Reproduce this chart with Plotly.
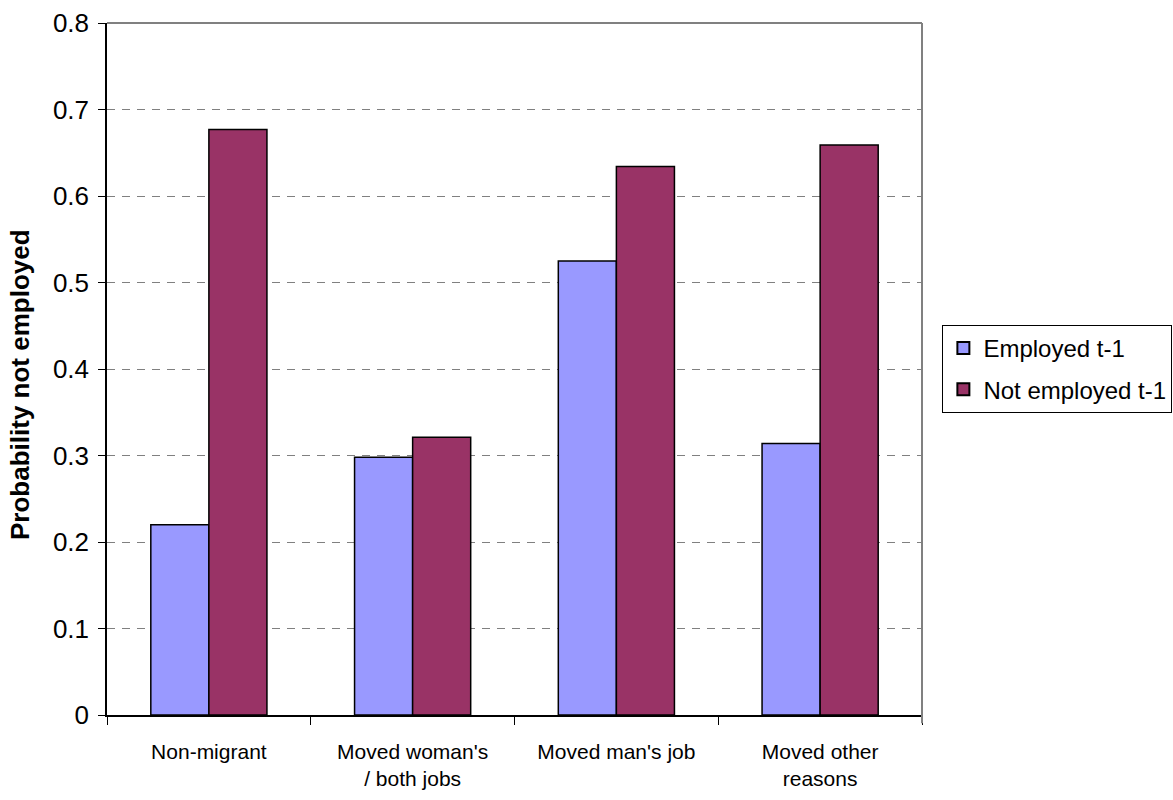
import plotly.graph_objects as go

categories = ["Non-migrant", "Moved woman's<br>/ both jobs", "Moved man's job", "Moved other<br>reasons"]
employed_t1 = [0.220, 0.298, 0.525, 0.314]
not_employed_t1 = [0.677, 0.321, 0.634, 0.659]
series_names = ["Employed t-1", "Not employed t-1"]
y_ticks = [0, 0.1, 0.2, 0.3, 0.4, 0.5, 0.6, 0.7, 0.8]
y_tick_labels = ["0", "0.1", "0.2", "0.3", "0.4", "0.5", "0.6", "0.7", "0.8"]
y_title = "Probability not employed"

FONT = "Liberation Sans, Arial, sans-serif"

fig = go.Figure()
fig.add_trace(go.Bar(x=categories, y=employed_t1, name=series_names[0], legendgroup="a",
                     marker=dict(color="#9999FF", line=dict(color="black", width=1.5))))
fig.add_trace(go.Bar(x=categories, y=not_employed_t1, name=series_names[1], legendgroup="b",
                     marker=dict(color="#993366", line=dict(color="black", width=1.5))))

fig.update_layout(
    width=1173, height=800,
    margin=dict(l=107, r=251, t=23, b=85, autoexpand=False),
    paper_bgcolor="white", plot_bgcolor="white",
    barmode="group", bargap=0.43, bargroupgap=0,
    font=dict(family=FONT, color="black", size=24),
    legend=dict(x=1.025, y=0.5, xanchor="left", yanchor="middle",
                bordercolor="black", borderwidth=1, bgcolor="white",
                font=dict(family=FONT, size=24), itemsizing="constant",
                itemwidth=30, traceorder="grouped", tracegroupgap=7),
    showlegend=True,
)
fig.update_xaxes(
    showline=True, linecolor="black", linewidth=1.5,
    ticks="outside", tickson="boundaries", ticklen=8, tickcolor="black", tickwidth=1,
    tickfont=dict(family=FONT, size=21),
    ticklabelstandoff=17,
    showgrid=False, automargin=False,
)
fig.update_yaxes(
    range=[0, 0.8], tickvals=y_ticks, ticktext=y_tick_labels,
    showline=True, linecolor="black", linewidth=1.5,
    ticks="outside", ticklen=7, tickcolor="black", tickwidth=1,
    ticklabelstandoff=4,
    tickfont=dict(family=FONT, size=26),
    showgrid=True, gridcolor="#808080", gridwidth=1, griddash="8px,7px",
    zeroline=False, automargin=False,
)
fig.add_annotation(text="<b>" + y_title + "</b>", textangle=-90,
                   xref="paper", yref="paper", x=-0.107, y=0.478,
                   xanchor="center", yanchor="middle", showarrow=False,
                   font=dict(family=FONT, size=26, color="black"))
fig.add_shape(type="line", xref="paper", yref="paper", x0=0, x1=1, y0=1, y1=1,
              line=dict(color="#808080", width=2))
fig.add_shape(type="line", xref="paper", yref="paper", x0=1, x1=1, y0=-0.012, y1=1,
              line=dict(color="#808080", width=2))

fig.write_html("out.html")
